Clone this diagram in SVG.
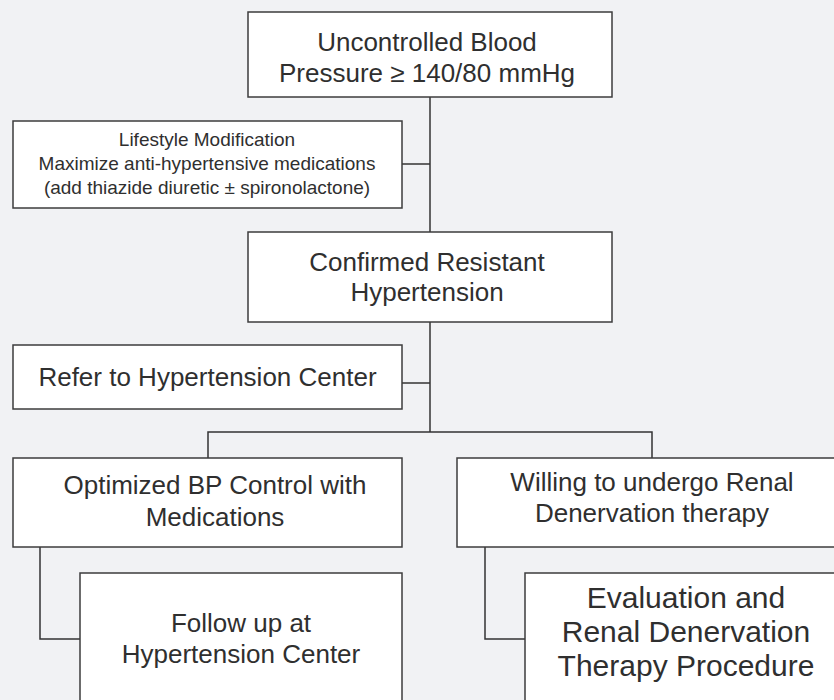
<svg xmlns="http://www.w3.org/2000/svg" width="834" height="700" viewBox="0 0 834 700">
  <style>
    .box { fill: #ffffff; stroke: #3d3d3d; stroke-width: 1.5; }
    .conn { fill: none; stroke: #333333; stroke-width: 1.5; }
    text { font-family: "Liberation Sans", Arial, sans-serif; fill: #2f2f2f; text-anchor: middle; }
    .t26 { font-size: 26px; }
    .t19 { font-size: 19px; }
    .t30 { font-size: 30px; }
  </style>
  <rect x="0" y="0" width="834" height="700" fill="#f1f2f4"/>
  <g id="connectors">
    <path class="conn" d="M430 97 V232"/>
    <path class="conn" d="M430 322 V432"/>
    <path class="conn" d="M402 164 H430"/>
    <path class="conn" d="M402 383 H430"/>
    <path class="conn" d="M208 458 V432 H652 V458"/>
    <path class="conn" d="M40 547 V639 H80"/>
    <path class="conn" d="M485 547 V639 H525"/>
  </g>
  <g id="uncontrolled">
    <rect class="box" x="248" y="12" width="364" height="85"/>
    <text class="t26" x="427" y="51">Uncontrolled Blood</text>
    <text class="t26" x="427" y="82">Pressure ≥ 140/80 mmHg</text>
  </g>
  <g id="lifestyle">
    <rect class="box" x="13" y="121" width="389" height="87"/>
    <text class="t19" x="207" y="146">Lifestyle Modification</text>
    <text class="t19" x="207" y="170">Maximize anti-hypertensive medications</text>
    <text class="t19" x="207" y="194">(add thiazide diuretic ± spironolactone)</text>
  </g>
  <g id="confirmed">
    <rect class="box" x="248" y="232" width="364" height="90"/>
    <text class="t26" x="427" y="271">Confirmed Resistant</text>
    <text class="t26" x="427" y="301">Hypertension</text>
  </g>
  <g id="refer">
    <rect class="box" x="13" y="345" width="389" height="64"/>
    <text class="t26" x="207.5" y="386">Refer to Hypertension Center</text>
  </g>
  <g id="optimized">
    <rect class="box" x="13" y="458" width="389" height="89"/>
    <text class="t26" x="215" y="494">Optimized BP Control with</text>
    <text class="t26" x="215" y="526">Medications</text>
  </g>
  <g id="followup">
    <rect class="box" x="80" y="573" width="322" height="150"/>
    <text class="t26" x="241" y="632">Follow up at</text>
    <text class="t26" x="241" y="663">Hypertension Center</text>
  </g>
  <g id="willing">
    <rect class="box" x="457" y="458" width="400" height="89"/>
    <text class="t26" x="652" y="491">Willing to undergo Renal</text>
    <text class="t26" x="652" y="522">Denervation therapy</text>
  </g>
  <g id="evaluation">
    <rect class="box" x="525" y="573" width="330" height="150"/>
    <text class="t30" x="686" y="608">Evaluation and</text>
    <text class="t30" x="686" y="642">Renal Denervation</text>
    <text class="t30" x="686" y="676">Therapy Procedure</text>
  </g>
</svg>
